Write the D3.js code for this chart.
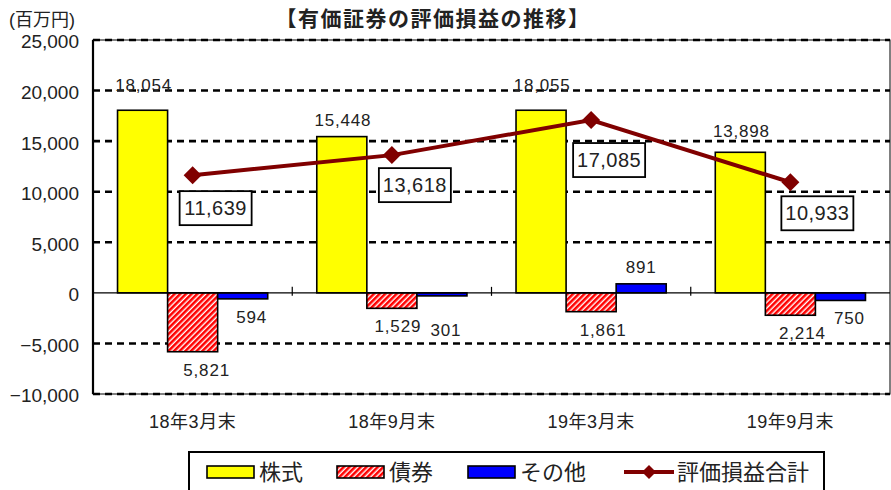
<!DOCTYPE html>
<html>
<head>
<meta charset="utf-8">
<script src="https://cdn.jsdelivr.net/npm/d3@7"></script>
<style>
  body { margin: 0; background: #fff; }
  text { font-family: "Liberation Sans", Arial, "Noto Sans CJK JP", sans-serif; fill: #222; }
</style>
</head>
<body>
<svg id="chart" width="891" height="490"></svg>
<script>
// data (百万円)
const categories = ["18年3月末", "18年9月末", "19年3月末", "19年9月末"];
const seriesNames = ["株式", "債券", "その他", "評価損益合計"];
const stocks = [18054, 15448, 18055, 13898];
const bonds = [-5821, -1529, -1861, -2214];
const others = [-594, -301, 891, -750];
const totals = [11639, 13618, 17085, 10933];
const yTicks = [-10000, -5000, 0, 5000, 10000, 15000, 20000, 25000];

// label placement tweaks (layout only)
const totalBoxOffset = [[23, 33], [23, 30], [18, 40], [27, 31]];
const stockLabelDy = [-19, -11, -19, -15];
const bondLabelDx = [14, 6, 12, 12];
const otherLabelDx = [9, 4, 0, 9];
const otherLabelDy = [24, 40, -11, 24];

const svg = d3.select('#chart');
const width = +svg.attr('width');
const height = +svg.attr('height');
const margin = {top: 40, right: 1, bottom: 96, left: 93};
const innerWidth = width - margin.left - margin.right;
const innerHeight = height - margin.top - margin.bottom;
const fmt = d3.format(',');

// hatch for bonds
const defs = svg.append('defs');
const pat = defs.append('pattern')
  .attr('id', 'hatch')
  .attr('patternUnits', 'userSpaceOnUse')
  .attr('width', 4).attr('height', 4)
  .attr('patternTransform', 'rotate(45)');
pat.append('rect').attr('width', 4).attr('height', 4).attr('fill', '#fff');
pat.append('rect').attr('width', 2.6).attr('height', 4).attr('fill', '#ff0000');

const colors = {stocks: '#ffff00', bonds: 'url(#hatch)', others: '#0000ff'};
const lineColor = '#800000';

const xScale = d3.scaleBand()
  .domain(categories)
  .range([0, innerWidth]);
const xInner = d3.scaleBand()
  .domain(['stocks', 'bonds', 'others'])
  .range([0, xScale.bandwidth()])
  .paddingOuter(0.49);
const yScale = d3.scaleLinear()
  .domain([-10000, 25000])
  .range([innerHeight, 0]);

// title and unit
svg.append('text')
  .attr('x', 433).attr('y', 26)
  .attr('text-anchor', 'middle')
  .style('font-size', '21px').style('font-weight', 'bold')
  .style('letter-spacing', '1.5px')
  .text('【有価証券の評価損益の推移】');
svg.append('text')
  .attr('x', 9).attr('y', 26)
  .style('font-size', '18px')
  .text('(百万円)');

const g = svg.append('g')
  .attr('transform', `translate(${margin.left}, ${margin.top})`);

g.append('rect')
  .attr('width', innerWidth).attr('height', innerHeight)
  .attr('fill', '#fff').attr('stroke', '#000').attr('stroke-width', 1);

// gridlines
g.append('g').selectAll('line')
  .data(yTicks.filter(t => t !== 0))
  .enter().append('line')
    .attr('x1', 0).attr('x2', innerWidth)
    .attr('y1', d => yScale(d)).attr('y2', d => yScale(d))
    .attr('stroke', '#000').attr('stroke-width', 2.6)
    .attr('stroke-dasharray', '7,5');

// y axis
const yAxis = g.append('g')
  .call(d3.axisLeft(yScale).tickValues(yTicks).tickSize(0).tickPadding(14).tickFormat(fmt));
yAxis.select('.domain').remove();
yAxis.selectAll('text')
  .attr('dy', '0.42em')
  .style('font-size', '19px')
  .style('font-family', '"Liberation Sans", Arial, sans-serif')
  .attr('fill', '#222');

// bars
const rows = categories.map((c, i) => ({cat: c, stocks: stocks[i], bonds: bonds[i], others: others[i]}));
const groups = g.selectAll('.grp').data(rows)
  .enter().append('g')
    .attr('class', 'grp')
    .attr('transform', d => `translate(${xScale(d.cat)}, 0)`);

groups.selectAll('rect')
  .data(d => ['stocks', 'bonds', 'others'].map(k => ({key: k, value: d[k]})))
  .enter().append('rect')
    .attr('x', d => xInner(d.key))
    .attr('y', d => yScale(Math.max(0, d.value)))
    .attr('width', xInner.bandwidth())
    .attr('height', d => Math.abs(yScale(d.value) - yScale(0)))
    .attr('fill', d => colors[d.key])
    .attr('stroke', '#000').attr('stroke-width', 1.6);

// zero line and category ticks
g.append('line')
  .attr('x1', 0).attr('x2', innerWidth)
  .attr('y1', yScale(0)).attr('y2', yScale(0))
  .attr('stroke', '#000').attr('stroke-width', 1.2);
g.append('g').selectAll('line')
  .data(categories.slice(1))
  .enter().append('line')
    .attr('x1', d => xScale(d)).attr('x2', d => xScale(d))
    .attr('y1', yScale(0) - 6).attr('y2', yScale(0) + 3)
    .attr('stroke', '#000').attr('stroke-width', 1.2);

// left axis line
g.append('line')
  .attr('x1', 0).attr('x2', 0).attr('y1', 0).attr('y2', innerHeight)
  .attr('stroke', '#000').attr('stroke-width', 2.2);

// x labels
g.append('g').selectAll('text')
  .data(categories)
  .enter().append('text')
    .attr('x', d => xScale(d) + xScale.bandwidth() / 2)
    .attr('y', innerHeight + 34)
    .attr('text-anchor', 'middle')
    .style('font-size', '18px')
    .style('letter-spacing', '0.5px')
    .text(d => d);

// bar value labels
const labelSize = '17px';
groups.append('text')
  .attr('x', xInner('stocks') + xInner.bandwidth() / 2 + 1)
  .attr('y', (d, i) => yScale(d.stocks) + stockLabelDy[i])
  .attr('text-anchor', 'middle')
  .style('font-size', labelSize).style('letter-spacing', '0.8px')
  .text(d => fmt(Math.abs(d.stocks)));
groups.append('text')
  .attr('x', (d, i) => xInner('bonds') + xInner.bandwidth() / 2 + bondLabelDx[i])
  .attr('y', d => yScale(d.bonds) + 24)
  .attr('text-anchor', 'middle')
  .style('font-size', labelSize).style('letter-spacing', '0.8px')
  .text(d => fmt(Math.abs(d.bonds)));
groups.append('text')
  .attr('x', (d, i) => xInner('others') + xInner.bandwidth() / 2 + otherLabelDx[i])
  .attr('y', (d, i) => yScale(d.others) + otherLabelDy[i])
  .attr('text-anchor', 'middle')
  .style('font-size', labelSize).style('letter-spacing', '0.8px')
  .text(d => fmt(Math.abs(d.others)));

// total line
const cx = c => xScale(c) + xScale.bandwidth() / 2;
const line = d3.line()
  .x((d, i) => cx(categories[i]))
  .y(d => yScale(d));
g.append('path')
  .datum(totals)
  .attr('d', line)
  .attr('fill', 'none')
  .attr('stroke', lineColor).attr('stroke-width', 4);

const diamond = r => `M0,${-r}L${r},0L0,${r}L${-r},0Z`;
g.append('g').selectAll('path')
  .data(totals)
  .enter().append('path')
    .attr('d', diamond(9))
    .attr('transform', (d, i) => `translate(${cx(categories[i])}, ${yScale(d)})`)
    .attr('fill', lineColor);

// boxed total labels
const boxes = g.append('g').selectAll('g')
  .data(totals)
  .enter().append('g')
    .attr('transform', (d, i) => `translate(${cx(categories[i]) + totalBoxOffset[i][0]}, ${yScale(d) + totalBoxOffset[i][1]})`);
boxes.append('rect')
  .attr('x', -36).attr('y', -17).attr('width', 72).attr('height', 34)
  .attr('fill', '#fff').attr('stroke', '#000').attr('stroke-width', 1.8);
boxes.append('text')
  .attr('y', 7)
  .attr('text-anchor', 'middle')
  .style('font-size', '20px').style('letter-spacing', '0.5px')
  .text(d => fmt(d));

// legend
const legend = svg.append('g');
legend.append('rect')
  .attr('x', 189).attr('y', 452).attr('width', 635).attr('height', 46)
  .attr('fill', '#fff').attr('stroke', '#000').attr('stroke-width', 2);

const swatches = [
  {x: 207, fill: colors.stocks, label: seriesNames[0]},
  {x: 337, fill: colors.bonds, label: seriesNames[1]},
  {x: 468, fill: colors.others, label: seriesNames[2]}
];
const items = legend.selectAll('.item').data(swatches)
  .enter().append('g').attr('class', 'item');
items.append('rect')
  .attr('x', d => d.x).attr('y', 466).attr('width', 47).attr('height', 12)
  .attr('fill', d => d.fill).attr('stroke', '#000').attr('stroke-width', 1.6);
items.append('text')
  .attr('x', d => d.x + 52).attr('y', 480)
  .style('font-size', '22px')
  .text(d => d.label);

legend.append('line')
  .attr('x1', 624).attr('x2', 674).attr('y1', 472).attr('y2', 472)
  .attr('stroke', lineColor).attr('stroke-width', 4);
legend.append('path')
  .attr('d', diamond(7))
  .attr('transform', 'translate(649, 472)')
  .attr('fill', lineColor);
legend.append('text')
  .attr('x', 677).attr('y', 480)
  .style('font-size', '22px')
  .text(seriesNames[3]);
</script>
</body>
</html>
